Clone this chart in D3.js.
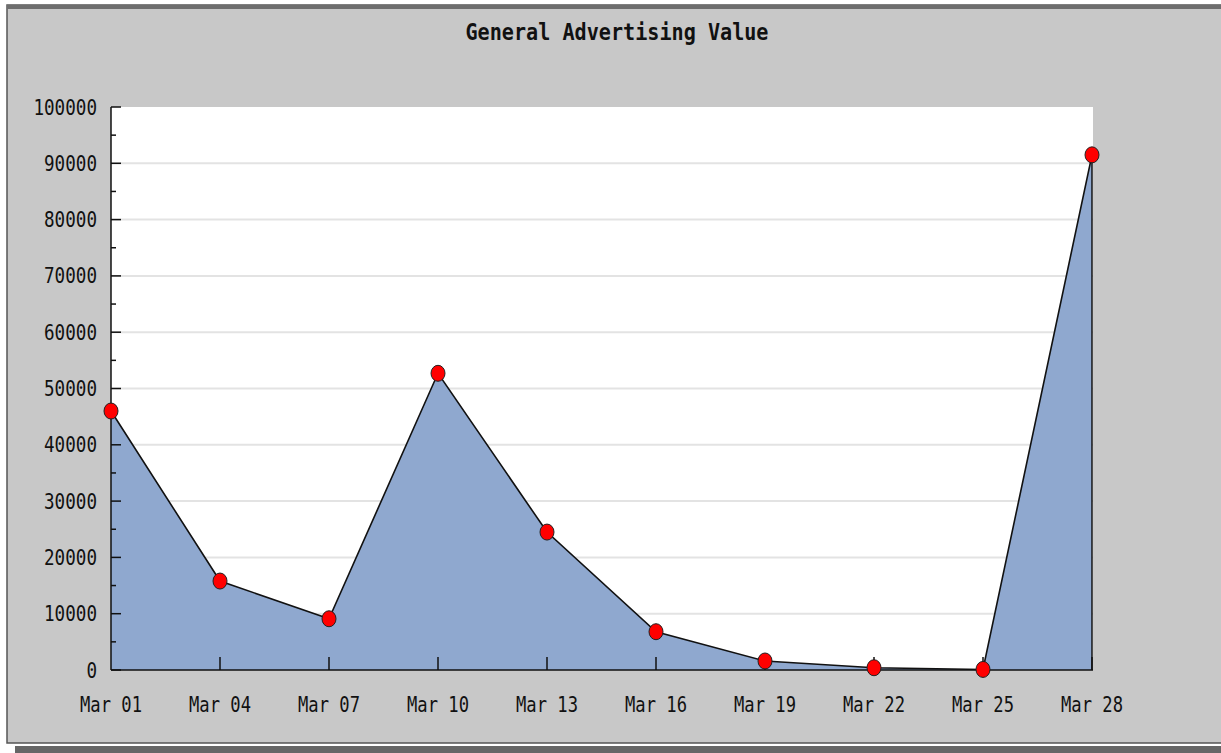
<!DOCTYPE html>
<html lang="en">

<head>
    <meta charset="UTF-8">
    <title>General Advertising Value</title>
    <style>
        body {
            margin: 0;
            background: #fff;
        }

        text {
            font-family: "DejaVu Sans Mono", monospace;
            fill: #111;
        }

        .grid line {
            stroke: #e3e3e3;
            stroke-width: 2px;
        }

        .area {
            fill: #8fa8cf;
        }

        .line {
            fill: none;
            stroke: #111;
            stroke-width: 1.6px;
        }

        .marker {
            fill: #f00;
            stroke: #222;
            stroke-width: 1px;
        }
    </style>
</head>

<body>
    <script src="https://d3js.org/d3.v7.min.js"></script>
    <script>
        // data
        const days = ["2000-03-01", "2000-03-04", "2000-03-07", "2000-03-10", "2000-03-13",
            "2000-03-16", "2000-03-19", "2000-03-22", "2000-03-25", "2000-03-28"];
        const values = [46000, 15800, 9100, 52700, 24500, 6800, 1600, 400, 100, 91500];
        const yTicks = [0, 10000, 20000, 30000, 40000, 50000, 60000, 70000, 80000, 90000, 100000];
        const title = "General Advertising Value";

        const W = 1221, H = 753;
        const plot = { left: 111, right: 1093, top: 107, bottom: 670 };

        const parse = d3.timeParse("%Y-%m-%d");
        const data = days.map((d, i) => ({ date: parse(d), value: values[i] }));

        const svg = d3.select("body").append("svg")
            .attr("width", W)
            .attr("height", H);

        // panel + shadow
        svg.append("rect").attr("x", 15).attr("y", 746).attr("width", W - 15).attr("height", 7).attr("fill", "#666");
        svg.append("rect").attr("x", 7).attr("y", 5).attr("width", W).attr("height", 738)
            .attr("fill", "#c8c8c8").attr("stroke", "#555").attr("stroke-width", 1.5);
        svg.append("rect").attr("x", 7).attr("y", 5).attr("width", W).attr("height", 4).attr("fill", "#6e6e6e");

        const x = d3.scaleTime()
            .domain(d3.extent(data, d => d.date))
            .range([plot.left, plot.right - 1]);

        const y = d3.scaleLinear()
            .domain([0, 100000])
            .range([plot.bottom, plot.top]);

        // plot background
        svg.append("rect")
            .attr("x", plot.left).attr("y", plot.top)
            .attr("width", plot.right - plot.left).attr("height", plot.bottom - plot.top)
            .attr("fill", "#fff");

        // gridlines
        svg.append("g").attr("class", "grid")
            .selectAll("line")
            .data(yTicks.filter(t => t > 0 && t < 100000))
            .enter().append("line")
            .attr("x1", plot.left).attr("x2", plot.right)
            .attr("y1", d => y(d)).attr("y2", d => y(d));

        // area + line
        svg.append("path").datum(data)
            .attr("class", "area")
            .attr("d", d3.area().x(d => x(d.date)).y0(plot.bottom).y1(d => y(d.value)));

        const last = data[data.length - 1];
        svg.append("line")
            .attr("x1", x(last.date)).attr("x2", x(last.date))
            .attr("y1", y(last.value)).attr("y2", plot.bottom)
            .attr("stroke", "#111").attr("stroke-width", 1.5);

        svg.append("path").datum(data)
            .attr("class", "line")
            .attr("d", d3.line().x(d => x(d.date)).y(d => y(d.value)));

        // y axis, ticks pointing inward
        const yAxis = svg.append("g").attr("transform", `translate(${plot.left},0)`);
        yAxis.append("line").attr("y1", plot.top).attr("y2", plot.bottom).attr("stroke", "#111").attr("stroke-width", 1.5);
        yAxis.selectAll(".major").data(yTicks).enter().append("line")
            .attr("x1", 0).attr("x2", 10).attr("y1", d => y(d)).attr("y2", d => y(d))
            .attr("stroke", "#111").attr("stroke-width", 1.5);
        yAxis.selectAll(".minor").data(yTicks.slice(1).map(t => t - 5000)).enter().append("line")
            .attr("x1", 0).attr("x2", 5).attr("y1", d => y(d)).attr("y2", d => y(d))
            .attr("stroke", "#111").attr("stroke-width", 1.5);
        yAxis.selectAll("text").data(yTicks).enter().append("text")
            .attr("x", -14).attr("y", d => y(d)).attr("dy", "0.36em")
            .attr("text-anchor", "end")
            .attr("font-size", 21)
            .attr("textLength", d => String(d).length * 10.6)
            .attr("lengthAdjust", "spacingAndGlyphs")
            .text(d => d);

        // x axis
        const fmt = d3.timeFormat("%b %d");
        const xAxis = svg.append("g");
        xAxis.append("line").attr("x1", plot.left).attr("x2", plot.right)
            .attr("y1", plot.bottom).attr("y2", plot.bottom).attr("stroke", "#111").attr("stroke-width", 1.5);
        xAxis.selectAll(".tick").data(data.slice(1)).enter().append("line")
            .attr("x1", d => x(d.date)).attr("x2", d => x(d.date))
            .attr("y1", plot.bottom).attr("y2", plot.bottom - 13)
            .attr("stroke", "#111").attr("stroke-width", 1.5);
        xAxis.selectAll("text").data(data).enter().append("text")
            .attr("x", d => x(d.date)).attr("y", 712)
            .attr("text-anchor", "middle")
            .attr("font-size", 22)
            .attr("textLength", 62)
            .attr("lengthAdjust", "spacingAndGlyphs")
            .text(d => fmt(d.date));

        // markers
        svg.selectAll(".marker").data(data).enter().append("ellipse")
            .attr("class", "marker")
            .attr("cx", d => x(d.date)).attr("cy", d => y(d.value))
            .attr("rx", 7).attr("ry", 8);

        // title
        svg.append("text")
            .attr("x", 617).attr("y", 40)
            .attr("text-anchor", "middle")
            .attr("font-size", 23)
            .attr("font-weight", "bold")
            .attr("textLength", 303)
            .attr("lengthAdjust", "spacingAndGlyphs")
            .text(title);
    </script>
</body>

</html>
